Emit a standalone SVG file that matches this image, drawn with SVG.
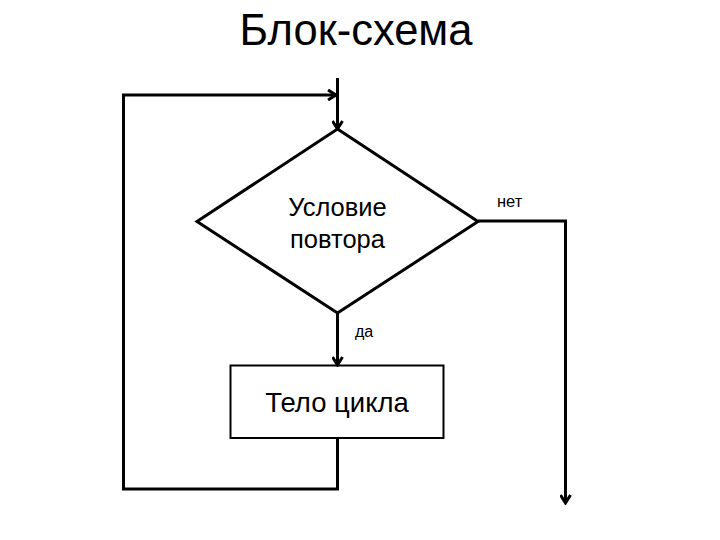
<svg xmlns="http://www.w3.org/2000/svg" width="720" height="540" viewBox="0 0 720 540">
<defs>
<style>
.ln{fill:none;stroke:#000;stroke-width:3}
.txt{font-family:"Liberation Sans",Arial,sans-serif;fill:#000}
</style>
<marker id="arr" markerWidth="12" markerHeight="12" refX="10" refY="6" orient="auto" markerUnits="userSpaceOnUse">
<path d="M2,1 L10,6 L2,11" fill="none" stroke="#000" stroke-width="3"/>
</marker>
</defs>
<rect width="720" height="540" fill="#fff"/>
<text class="txt" x="356" y="45" font-size="43.5" text-anchor="middle">Блок-схема</text>
<g id="connectors">
<path class="ln" d="M337.5,78 L337.5,129" marker-end="url(#arr)"/>
<path class="ln" d="M337.5,438 L337.5,489 L123.5,489 L123.5,95 L336,95" marker-end="url(#arr)"/>
<path class="ln" d="M337.5,313 L337.5,365" marker-end="url(#arr)"/>
<path class="ln" d="M478,221 L565.5,221 L565.5,503" marker-end="url(#arr)"/>
<text class="txt" x="355" y="337" font-size="16">да</text>
<text class="txt" x="497" y="207" font-size="16.5">нет</text>
</g>
<g id="decision">
<polygon points="337.5,129 478,221.5 337.5,313 197,221.5" fill="none" stroke="#000" stroke-width="3"/>
<text class="txt" x="337.5" y="216" font-size="25.5" text-anchor="middle">Условие</text>
<text class="txt" x="337.5" y="248" font-size="25.5" text-anchor="middle">повтора</text>
</g>
<g id="body">
<rect x="230.5" y="365.5" width="213" height="72.5" fill="none" stroke="#000" stroke-width="2"/>
<text class="txt" x="337" y="412" font-size="27.5" text-anchor="middle">Тело цикла</text>
</g>
</svg>
